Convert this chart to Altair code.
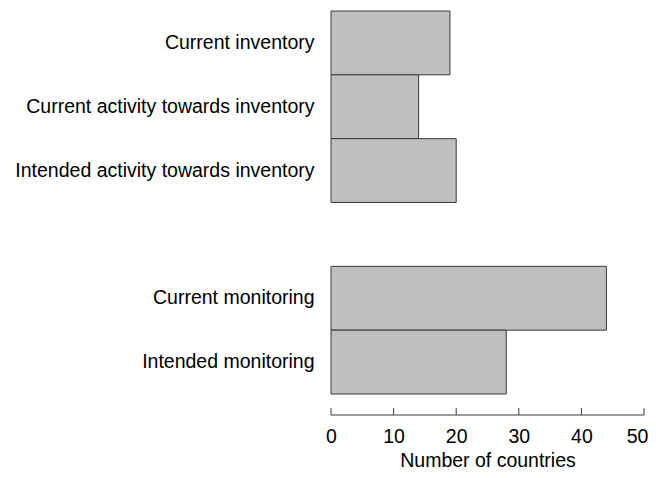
import altair as alt
import pandas as pd

categories = [
    "Current inventory",
    "Current activity towards inventory",
    "Intended activity towards inventory",
    "Current monitoring",
    "Intended monitoring",
]
values = [19, 14, 20, 44, 28]
spacer = " "
domain_order = categories[:3] + [spacer] + categories[3:]
tick_values = [0, 10, 20, 30, 40, 50]

df = pd.DataFrame({"category": categories, "countries": values})
ticks_df = pd.DataFrame({"t": tick_values})

FONT = "Liberation Sans"
W, H = 313, 383

xscale = alt.Scale(domain=[0, 50], nice=False, zero=True)

bars = alt.Chart(df).mark_bar(
    fill="#bfbfbf", stroke="#3a3a3a", strokeWidth=1
).encode(
    x=alt.X(
        "countries:Q",
        scale=xscale,
        axis=alt.Axis(
            values=tick_values,
            title="Number of countries",
            domain=False,
            ticks=False,
            tickSize=0,
            grid=False,
            labelFlush=False,
            labelPadding=33,
            labelFont=FONT,
            labelFontSize=19.5,
            labelColor="black",
            labelOffset={"condition": {"test": "datum.value == 50", "value": -7}, "value": 0},
            titleFont=FONT,
            titleFontSize=19.5,
            titleFontWeight="normal",
            titleColor="black",
            titlePadding=6,
        ),
    ),
    y=alt.Y(
        "category:N",
        scale=alt.Scale(domain=domain_order, paddingInner=0, paddingOuter=0),
        axis=alt.Axis(
            title=None,
            domain=False,
            ticks=False,
            tickSize=0,
            grid=False,
            labelPadding=17,
            labelFont=FONT,
            labelFontSize=19.5,
            labelColor="black",
            labelLimit=400,
        ),
    ),
)

axis_line = alt.Chart(pd.DataFrame({"a": [tick_values[0]], "b": [tick_values[-1]]})).mark_rule(
    color="#3a3a3a", strokeWidth=1
).encode(
    x=alt.X("a:Q", scale=xscale),
    x2="b:Q",
    y=alt.value(H + 21),
)

tick_marks = alt.Chart(ticks_df).mark_rule(color="#3a3a3a", strokeWidth=1).encode(
    x=alt.X("t:Q", scale=xscale),
    y=alt.value(H + 14),
    y2=alt.value(H + 21),
)

chart = alt.layer(bars, axis_line, tick_marks).properties(
    width=W,
    height=H,
    background="white",
    autosize=alt.AutoSizeParams(type="none"),
    padding={"left": 323, "top": 3, "right": 4, "bottom": 76},
).configure_view(strokeWidth=0, stroke="transparent")

chart.save("out.html", embed_options={"renderer": "svg", "actions": False})
